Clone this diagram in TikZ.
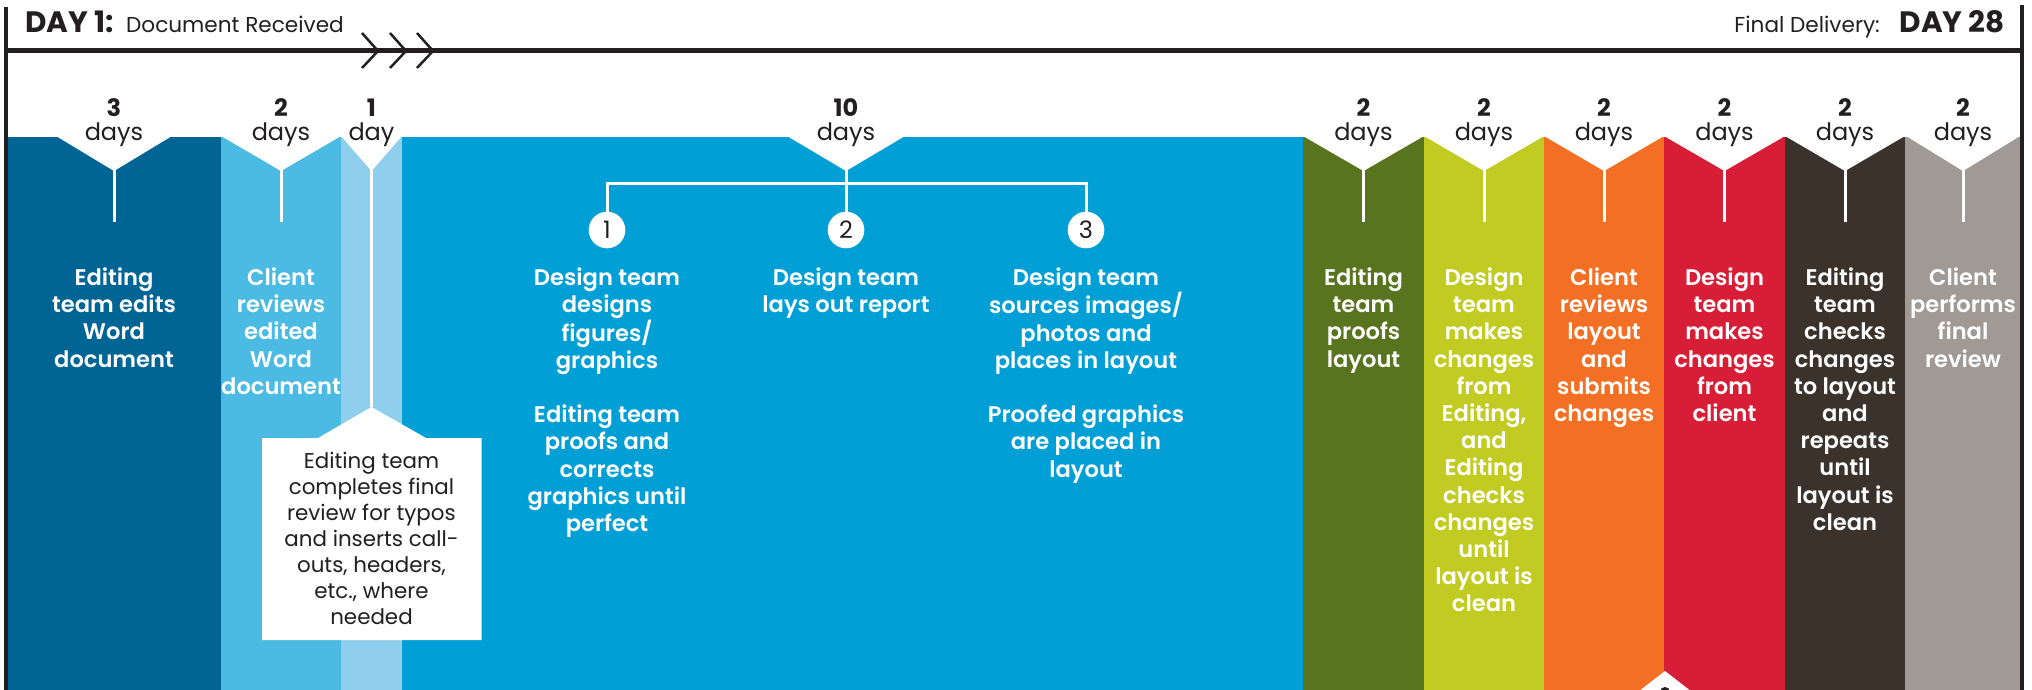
\documentclass[tikz,border=0pt]{standalone}
\usepackage{fontspec}
\setmainfont{Poppins}[BoldFont={Poppins SemiBold}]
\newfontface\heavyfont{Poppins Bold}
\definecolor{cA}{HTML}{006595}
\definecolor{cB}{HTML}{4BBBE3}
\definecolor{cC}{HTML}{8FCEEC}
\definecolor{cD}{HTML}{009FD6}
\definecolor{cE}{HTML}{58741E}
\definecolor{cF}{HTML}{C2CB21}
\definecolor{cG}{HTML}{F36F23}
\definecolor{cH}{HTML}{D81E36}
\definecolor{cI}{HTML}{3B322B}
\definecolor{cJ}{HTML}{A19A94}
\definecolor{ink}{HTML}{231F20}
\tikzset{
  coltext/.style={text=white, font=\bfseries\fontsize{22.6}{27.2}\selectfont, align=center, anchor=north, inner sep=0pt, execute at begin node=\strut},
  calltext/.style={text=ink, font=\fontsize{21.4}{26}\selectfont, align=center, anchor=north, inner sep=0pt, execute at begin node=\strut},
  daynum/.style={text=ink, font=\heavyfont\fontsize{24}{28}\selectfont, anchor=base, inner sep=0pt},
  dayword/.style={text=ink, font=\fontsize{24}{28}\selectfont, anchor=base, inner sep=0pt},
  tick/.style={draw=white, line width=3pt},
  rulex/.style={draw=ink, line width=5pt},
  ruley/.style={draw=ink, line width=4pt},
  chev/.style={draw=ink, line width=2.5pt},
  numcirc/.style={circle, fill=white, minimum size=36.6pt, inner sep=0pt, text=ink, font=\fontsize{24}{28}\selectfont},
}
\newcommand\mynotch[2]{\fill[white] (#1-#2,136) -- (#1+#2,136) -- (#1,171) -- cycle;}
\begin{document}
\begin{tikzpicture}[x=1pt,y=-1pt]
\useasboundingbox (0,0) rectangle (2032,690);
\fill[white] (0,0) rectangle (2032,690);
% columns
\fill[cA] (8,137) rectangle (221,690);
\fill[cB] (221,137) rectangle (341,690);
\fill[cC] (341,137) rectangle (402,690);
\fill[cD] (402,137) rectangle (1303,690);
\fill[cE] (1303,137) rectangle (1424,690);
\fill[cF] (1424,137) rectangle (1544,690);
\fill[cG] (1544,137) rectangle (1664,690);
\fill[cH] (1664,137) rectangle (1785,690);
\fill[cI] (1785,137) rectangle (1905,690);
\fill[cJ] (1905,137) rectangle (2020,690);
% notches
\mynotch{114}{58}
\mynotch{281}{60}
\mynotch{371.5}{30.5}
\mynotch{846}{59}
\mynotch{1363.5}{60.5}
\mynotch{1484}{60}
\mynotch{1604}{60}
\mynotch{1724.5}{60.5}
\mynotch{1845}{60}
\mynotch{1963}{57}
% tick coordinates
\coordinate (t1) at (114,170); \coordinate (e1) at (114,222);
\coordinate (t2) at (281,170); \coordinate (e2) at (281,222);
\coordinate (t3) at (371.5,170);
\coordinate (t4) at (846,170); \coordinate (br) at (846,183);
\coordinate (t5) at (1363.5,170); \coordinate (e5) at (1363.5,222);
\coordinate (t6) at (1484,170); \coordinate (e6) at (1484,222);
\coordinate (t7) at (1604,170); \coordinate (e7) at (1604,222);
\coordinate (t8) at (1724.5,170); \coordinate (e8) at (1724.5,222);
\coordinate (t9) at (1845,170); \coordinate (e9) at (1845,222);
\coordinate (t10) at (1963,170); \coordinate (e10) at (1963,222);
\draw[tick] (t1) -- (e1);
\draw[tick] (t2) -- (e2);
\draw[tick] (t5) -- (e5);
\draw[tick] (t6) -- (e6);
\draw[tick] (t7) -- (e7);
\draw[tick] (t8) -- (e8);
\draw[tick] (t9) -- (e9);
\draw[tick] (t10) -- (e10);
% callout
\coordinate (ap) at (371.5,407);
\fill[white] (262,438) -- (318,438) -- (ap) -- (426,438) -- (481.5,438) -- (481.5,640) -- (262,640) -- cycle;
\draw[tick] (t3) -- (ap);
\node[calltext] (call) at (371.5,452) {Editing team\\completes final\\review for typos\\and inserts call-\\outs, headers,\\etc., where\\needed};
% circles and branch
\node[numcirc] (n1) at (607,230) {1};
\node[numcirc] (n2) at (846,230) {2};
\node[numcirc] (n3) at (1086,230) {3};
\draw[tick] (t4) -- (n2);
\draw[tick] (n1) |- (br) -| (n3);
% day labels
\foreach \nm/\x/\n/\w in {d1/114/3/days, d2/281/2/days, d3/371.5/1/day, d4/846/10/days, d5/1363.5/2/days, d6/1484/2/days, d7/1604/2/days, d8/1724.5/2/days, d9/1845/2/days, d10/1963/2/days}{
  \node[daynum] (\nm n) at (\x,117) {\n};
  \node[dayword] (\nm w) at (\x,141) {\w};
}
% column texts
\node[coltext] (k1) at (114,267.5) {Editing\\team edits\\Word\\document};
\node[coltext] (k2) at (281,267.5) {Client\\reviews\\edited\\Word\\document};
\node[coltext] (k4a) at (607,267.5) {Design team\\designs\\figures/\\graphics\\[27.2pt]Editing team\\proofs and\\corrects\\graphics until\\perfect};
\node[coltext] (k4b) at (846,267.5) {Design team\\lays out report};
\node[coltext] (k4c) at (1086,267.5) {Design team\\sources images/\\photos and\\places in layout\\[27.2pt]Proofed graphics\\are placed in\\layout};
\node[coltext] (k5) at (1363.5,267.5) {Editing\\team\\proofs\\layout};
\node[coltext] (k6) at (1484,267.5) {Design\\team\\makes\\changes\\from\\Editing,\\and\\Editing\\checks\\changes\\until\\layout is\\clean};
\node[coltext] (k7) at (1604,267.5) {Client\\reviews\\layout\\and\\submits\\changes};
\node[coltext] (k8) at (1724.5,267.5) {Design\\team\\makes\\changes\\from\\client};
\node[coltext] (k9) at (1845,267.5) {Editing\\team\\checks\\changes\\to layout\\and\\repeats\\until\\layout is\\clean};
\node[coltext] (k10) at (1963,267.5) {Client\\performs\\final\\review};
% bottom pointer
\begin{scope}
\clip (0,0) rectangle (2032,690);
\fill[white] (1638,692) -- (1665,671) -- (1692,692) -- cycle;
\fill[ink] (1665,692) circle[radius=5];
\end{scope}
% header rules
\draw[ruley] (6,7) -- (6,690);
\draw[ruley] (2022,5) -- (2022,690);
\draw[rulex] (6,51) -- (2022,51);
\draw[chev] (362,33) -- (378,51) -- (362,68);
\draw[chev] (390,33) -- (406,51) -- (390,68);
\draw[chev] (417,33) -- (433,51) -- (417,68);
\node[anchor=base west, inner sep=0pt, text=ink, font=\heavyfont\fontsize{29.5}{33}\selectfont] (day1) at (25,33) {DAY 1:};
\node[anchor=base west, inner sep=0pt, text=ink, font=\fontsize{21.6}{26}\selectfont] (recv) at (126,33) {Document Received};
\node[anchor=base east, inner sep=0pt, text=ink, font=\heavyfont\fontsize{29.5}{33}\selectfont] (day28) at (2005,33) {DAY 28};
\node[anchor=base east, inner sep=0pt, text=ink, font=\fontsize{21.6}{26}\selectfont] (final) at (1880,33) {Final Delivery:};
\end{tikzpicture}
\end{document}
